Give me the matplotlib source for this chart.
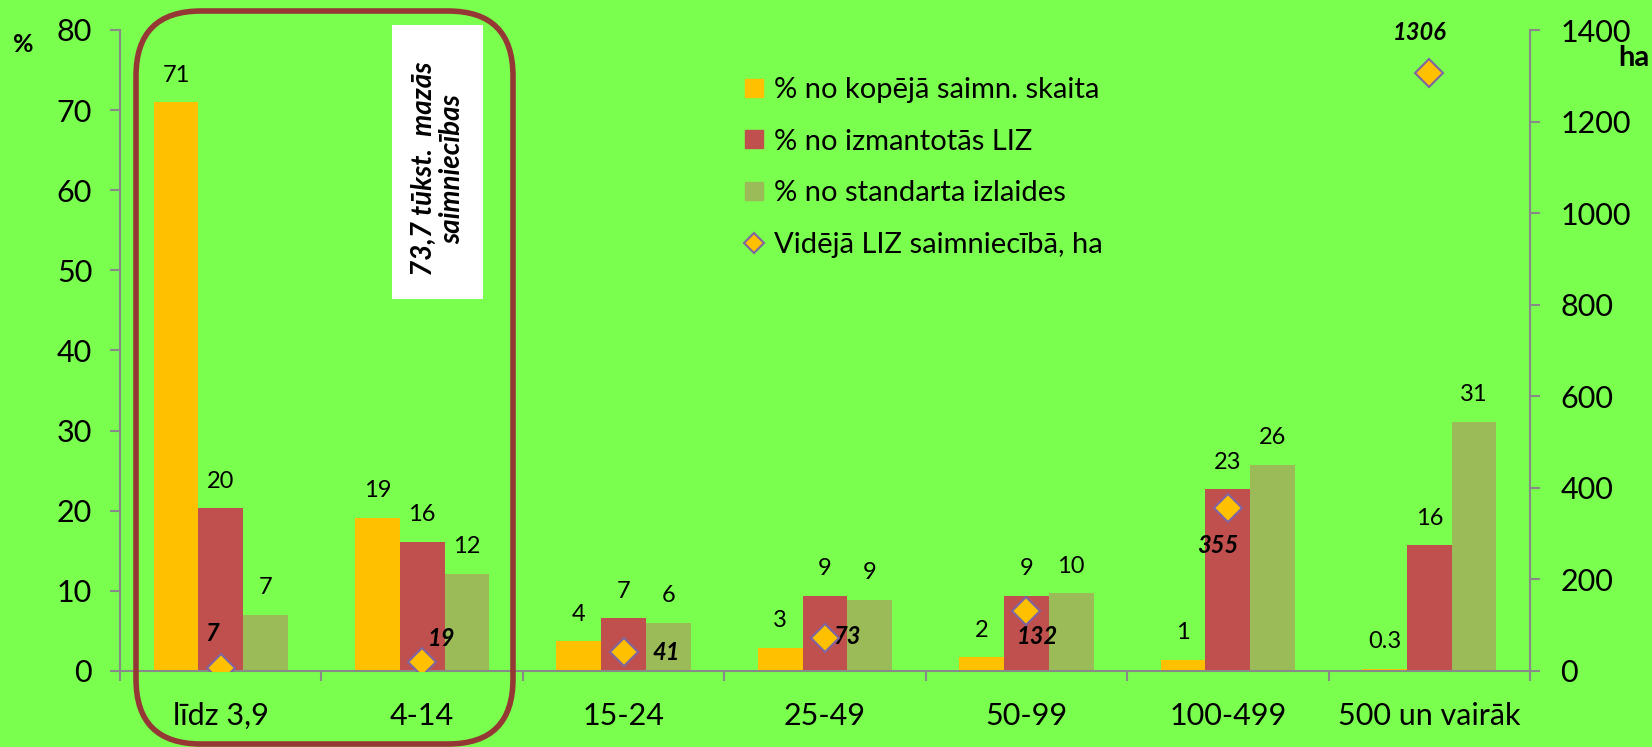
import matplotlib
matplotlib.use("Agg")
import matplotlib.pyplot as plt
from matplotlib.patches import FancyBboxPatch, Rectangle
from matplotlib.lines import Line2D
import numpy as np

plt.rcParams['font.family'] = ['Lato', 'DejaVu Sans']

# ---------------- data ----------------
categories = ["līdz 3,9", "4-14", "15-24", "25-49", "50-99", "100-499", "500 un vairāk"]
share_farms = [71.0, 19.1, 3.7, 2.9, 1.7, 1.4, 0.3]       # % no kopējā saimn. skaita
share_land = [20.3, 16.1, 6.6, 9.4, 9.4, 22.7, 15.7]      # % no izmantotās LIZ
share_output = [7.0, 12.1, 6.0, 8.9, 9.7, 25.7, 31.1]     # % no standarta izlaides
avg_land = [7, 19, 41, 73, 132, 355, 1306]                # Vidējā LIZ saimniecībā, ha

lab_farms = ["71", "19", "4", "3", "2", "1", "0.3"]
lab_land = ["20", "16", "7", "9", "9", "23", "16"]
lab_output = ["7", "12", "6", "9", "10", "26", "31"]
lab_avg = ["7", "19", "41", "73", "132", "355", "1306"]

series_names = ["% no kopējā saimn. skaita", "% no izmantotās LIZ",
                "% no standarta izlaides", "Vidējā LIZ saimniecībā, ha"]
left_ticks = [0, 10, 20, 30, 40, 50, 60, 70, 80]
right_ticks = [0, 200, 400, 600, 800, 1000, 1200, 1400]

# ---------------- style ----------------
BG = "#7BFF4F"
C_ORANGE = "#FFC000"
C_RED = "#C0504D"
C_GREEN = "#9BBB59"
C_PURPLE = "#8064A2"
C_AXIS = "#898989"
avg_offsets = [(-6, 25), (14, 17), (31, 0), (16, 1), (8, -19), (-7, -27), (-7, 29)]

W, H = 1652, 747
fig = plt.figure(figsize=(W / 100, H / 100), dpi=100)
fig.patch.set_facecolor(BG)

ax = fig.add_axes([120 / W, 1 - 671 / H, (1530 - 120) / W, (671 - 30) / H])
ax.set_facecolor(BG)
ax2 = ax.twinx()

x = np.arange(len(categories))
bw = 0.222
bars = [(share_farms, lab_farms, C_ORANGE, -bw),
        (share_land, lab_land, C_RED, 0),
        (share_output, lab_output, C_GREEN, bw)]
for vals, labs, col, off in bars:
    ax.bar(x + off, vals, width=bw, color=col, zorder=2)
    for xi, v, t in zip(x + off, vals, labs):
        ax.annotate(t, (xi, v), xytext=(0, 19.5), textcoords="offset points",
                    ha="center", va="center", fontsize=17, color="black")

ax.set_xlim(-0.5, len(categories) - 0.5)
ax.set_ylim(left_ticks[0], left_ticks[-1])
ax.set_yticks(left_ticks)
ax.set_xticks(x)
ax.set_xticklabels(categories, fontsize=22)
ax.set_xticks(np.arange(-0.5, len(categories)), minor=True)
ax.tick_params(axis="x", which="major", length=0, pad=22)
ax.tick_params(axis="x", which="minor", length=7, width=1.5, color=C_AXIS, direction="out")
ax.tick_params(axis="y", length=7, width=1.5, color=C_AXIS, labelsize=22, pad=13)

ax2.set_ylim(right_ticks[0], right_ticks[-1])
ax2.set_yticks(right_ticks)
ax2.tick_params(axis="y", length=7, width=1.5, color=C_AXIS, labelsize=22, pad=15)

for a in (ax, ax2):
    a.spines["top"].set_visible(False)
    for s in ("left", "right", "bottom"):
        a.spines[s].set_color(C_AXIS)
        a.spines[s].set_linewidth(1.5)
ax.spines["right"].set_visible(False)
ax2.spines["left"].set_visible(False)
ax2.spines["bottom"].set_visible(False)

ax2.plot(x, avg_land, linestyle="none", marker="D", markersize=14,
         markerfacecolor=C_ORANGE, markeredgecolor=C_PURPLE, markeredgewidth=1.5, zorder=5)
for xi, v, t, off in zip(x, avg_land, lab_avg, avg_offsets):
    ax2.annotate(t, (xi, v), xytext=off, textcoords="offset points", ha="center",
                 va="center", fontsize=17, fontweight="bold", fontstyle="italic")

# legend
handles = [Line2D([], [], linestyle="none", marker="s", markersize=13, color=C_ORANGE),
           Line2D([], [], linestyle="none", marker="s", markersize=13, color=C_RED),
           Line2D([], [], linestyle="none", marker="s", markersize=13, color=C_GREEN),
           Line2D([], [], linestyle="none", marker="D", markersize=10,
                  markerfacecolor=C_ORANGE, markeredgecolor=C_PURPLE, markeredgewidth=1.5)]
fig.legend(handles, series_names, loc="upper left", bbox_to_anchor=(745 / W, 1 - 77 / H),
           frameon=False, fontsize=21, handlelength=0.6, handletextpad=0.4,
           labelspacing=0.88, borderaxespad=0, borderpad=0)

# axis unit labels
fig.text(23 / W, 1 - 45 / H, "%", fontsize=18, fontweight="bold", ha="center", va="center")
fig.text(1618 / W, 1 - 58 / H, "ha", fontsize=21, fontweight="bold", ha="left", va="center")

# rounded frame around small farms
frame = FancyBboxPatch((1.36, 0.03), 3.77, 7.33,
                       boxstyle="round,pad=0,rounding_size=0.65",
                       transform=fig.dpi_scale_trans, facecolor="none",
                       edgecolor="#953735", linewidth=4, zorder=10)
fig.add_artist(frame)
wbox = Rectangle((3.92, 4.48), 0.91, 2.74, transform=fig.dpi_scale_trans,
                 facecolor="white", edgecolor="none", zorder=9)
fig.add_artist(wbox)
fig.text(438 / W, 1 - 169 / H, "73,7 tūkst.  mazās\nsaimniecības", rotation=90,
         fontsize=20, fontweight="bold", fontstyle="italic", ha="center", va="center",
         linespacing=1.15, zorder=11)

fig.savefig("out.png", dpi=100, facecolor=BG)
